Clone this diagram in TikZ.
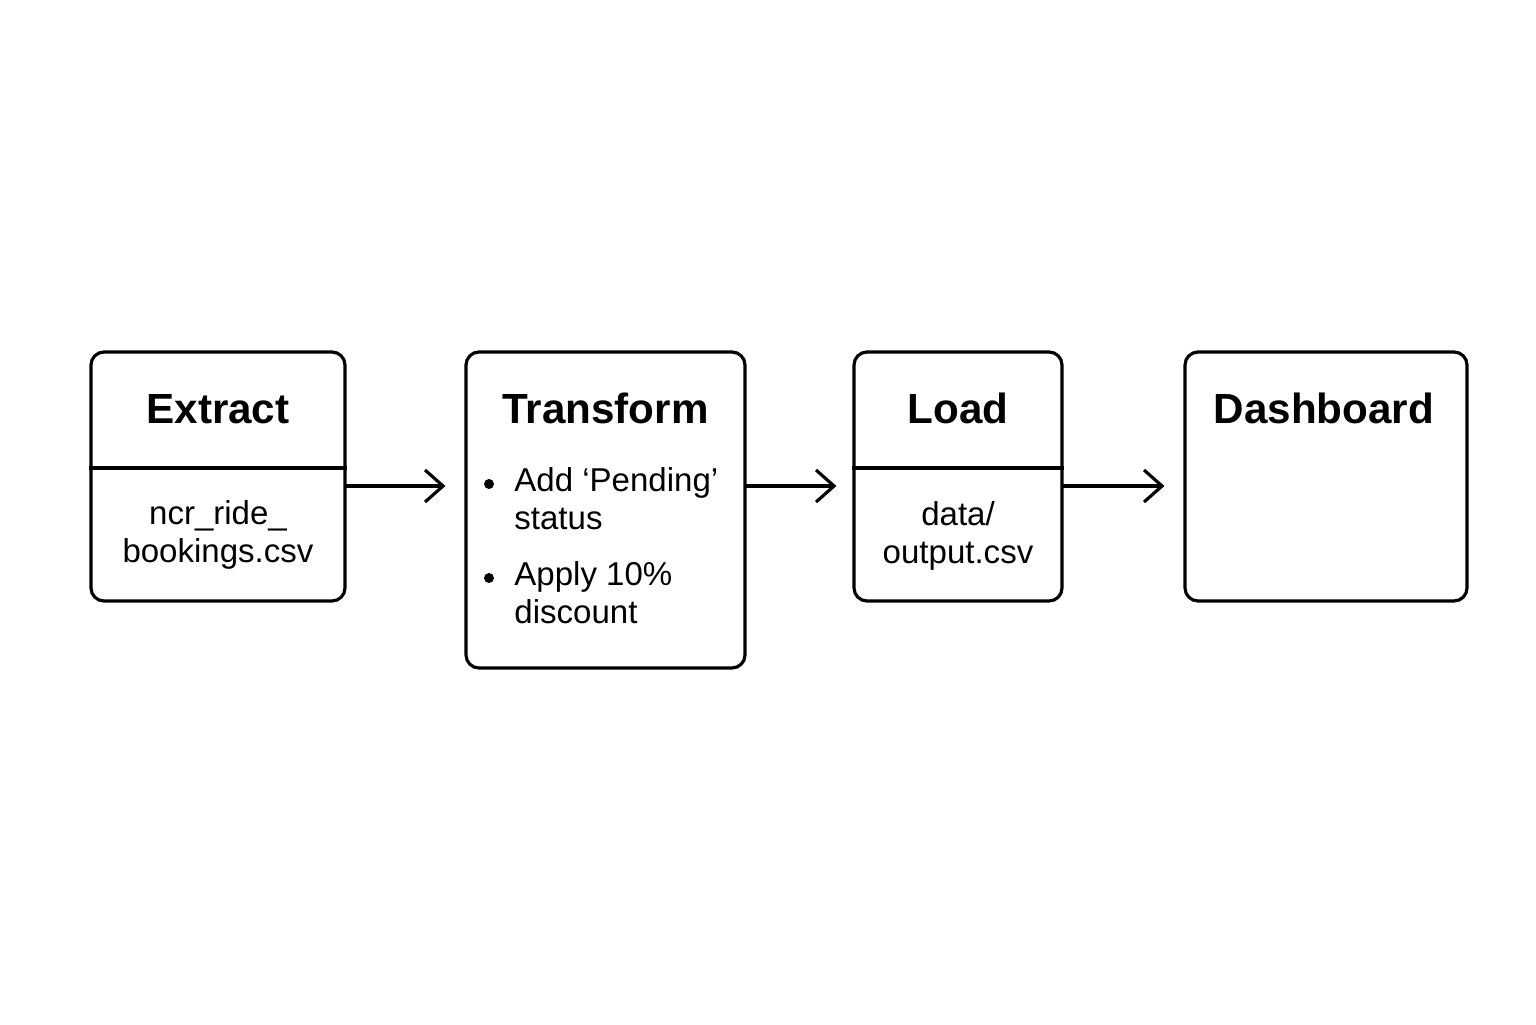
\documentclass[tikz,border=0pt]{standalone}
\usepackage{fontspec}
\setmainfont{Liberation Sans}
\usetikzlibrary{arrows.meta,positioning}

\begin{document}
\begin{tikzpicture}[>={Straight Barb[length=1.8mm,width=3.2mm]},
  stage/.style={draw,line width=0.9pt,rounded corners=1.3mm,inner sep=0pt},
  head/.style={font=\fontsize{12}{14}\selectfont\bfseries,anchor=base},
  body/.style={font=\fontsize{9.4}{10.6}\selectfont,align=center,anchor=base},
  flow/.style={->,line width=0.9pt,line cap=round}]
\useasboundingbox[fill=white] (0,0) rectangle (15.36,10.24);
% --- stage boxes ---
  \node[stage,minimum width=2.54cm,minimum height=2.49cm] (extract) at (2.18,5.475) {};
  \node[stage,minimum width=2.79cm,minimum height=3.16cm] (transform) at (6.055,5.14) {};
  \node[stage,minimum width=2.08cm,minimum height=2.49cm] (load) at (9.58,5.475) {};
  \node[stage,minimum width=2.82cm,minimum height=2.49cm] (dash) at (13.26,5.475) {};
  \coordinate (split) at (0,5.56);
  \draw[line width=0.9pt] (extract.west |- split) -- (extract.east |- split);
  \draw[line width=0.9pt] (load.west |- split) -- (load.east |- split);
% --- titles ---
  \node[head] (extractT) at (2.18,6.01) {Extract};
  \node[head] (transformT) at (6.055,6.01) {Transform};
  \node[head] (loadT) at (9.58,6.01) {Load};
  \node[head] (dashT) at (13.24,6.01) {Dashboard};
% --- contents ---
  \node[body] (extractB) at (2.18,4.62) {ncr\_ride\_\\bookings.csv};
  \node[body] (loadB) at (9.58,4.61) {data/\\output.csv};
  \node[body,align=left,anchor=base west] (step1) at (5.02,4.95) {Add ‘Pending’\\status};
  \node[body,align=left,anchor=base west] (step2) at (5.02,4.01) {Apply 10\%\\discount};
  \fill (4.89,5.40) circle (0.05);
  \fill (4.89,4.46) circle (0.05);
% --- arrows ---
  \coordinate (lane) at (0,5.38);
  \draw[flow,shorten >=1.9mm] (extract.east |- lane) -- (transform.west |- lane);
  \draw[flow,shorten >=1.6mm] (transform.east |- lane) -- (load.west |- lane);
  \draw[flow,shorten >=1.9mm] (load.east |- lane) -- (dash.west |- lane);
\end{tikzpicture}
\end{document}
